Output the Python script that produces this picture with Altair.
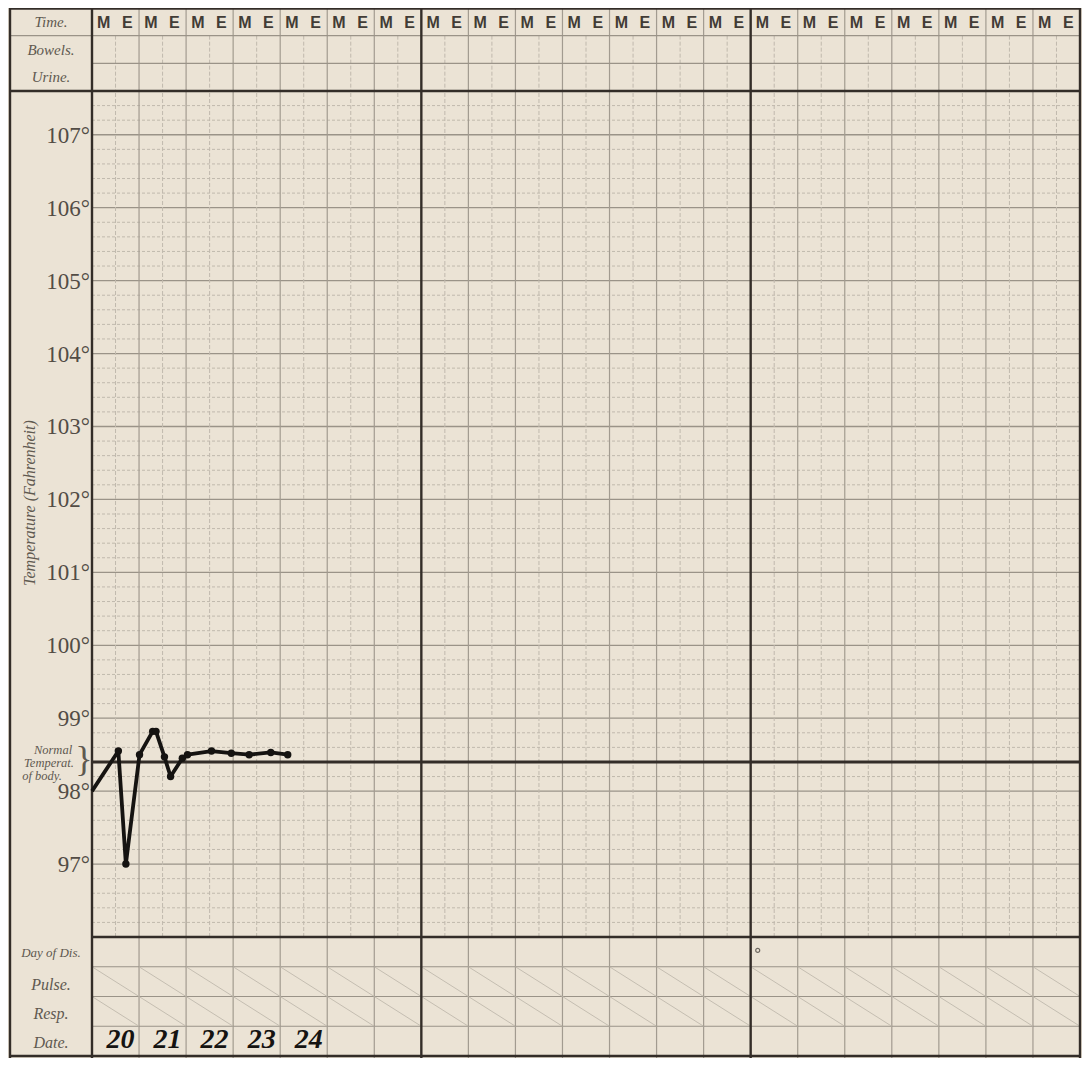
import altair as alt
import pandas as pd

# ---------------- data ----------------
N_DAYS = 21
SECTION_BOUNDS = [0, 7, 14, 21]
TIME_LETTERS = ["M", "E"]
HEADER_ROWS = ["Time.", "Bowels.", "Urine."]
FOOTER_ROWS = ["Day of Dis.", "Pulse.", "Resp.", "Date."]
DEGREE_TICKS = [97, 98, 99, 100, 101, 102, 103, 104, 105, 106, 107]
DEGREE_LABELS = ["97°", "98°", "99°", "100°", "101°", "102°", "103°", "104°", "105°", "106°", "107°"]
NORMAL_TEMP = 98.4
TEMP_DOMAIN = [96.0, 107.6]
MINOR_STEP = 0.2
# readings (x in days from chart start, temperature in °F)
READING_DAY = [0.0, 0.56, 0.72, 1.01, 1.29, 1.36, 1.54, 1.67, 1.92, 2.03, 2.54, 2.96, 3.34, 3.80, 4.16]
READING_TEMP = [98.0, 98.55, 97.0, 98.5, 98.82, 98.82, 98.47, 98.2, 98.45, 98.5, 98.55, 98.52, 98.5, 98.53, 98.5]
DATE_DAY = [1, 2, 3, 4, 5]
DATE_TEXT = ["20", "21", "22", "23", "24"]
DIS_MARK_DAY = [14.15]
NORMAL_TEXT = ["Normal", "Temperat.", "of body."]
AXIS_TITLE = "Temperature (Fahrenheit)"

# ---------------- layout ----------------
W, H = 1074, 1050
GX0, GX1 = 84, 1072      # grid left / right (px inside the view)
HB = 83                  # bottom of header rows
TB = 929                 # bottom of temperature area
FB = 1048                # bottom of footer rows
PPD = (GX1 - GX0) / N_DAYS


def px2day(p):
    return (p - GX0) / PPD


LEFT = px2day(2)
LAB_MID = px2day(43)

BG = "#ebe3d5"
INK = "#151311"
THICK = "#332d28"
MED = "#9a9388"
DAYC = "#a29b90"
LIGHT = "#c0b9ad"
LABEL_C = "#5f5950"
DEG_C = "#524c45"
SERIF = "Liberation Serif"

xs = alt.Scale(domain=[0, N_DAYS], range=[GX0, GX1], nice=False, zero=False)
ys_h = alt.Scale(domain=[0, 3], range=[0, HB], nice=False, zero=False)
ys_t = alt.Scale(domain=TEMP_DOMAIN, range=[TB, HB], nice=False, zero=False)
ys_f = alt.Scale(domain=[0, 4], range=[TB, FB], nice=False, zero=False)


def X(f):
    return alt.X(f, type="quantitative", scale=xs, axis=None)


def Y(f, s):
    return alt.Y(f, type="quantitative", scale=s, axis=None)


layers = []

# --- temperature minor lines (every 0.2°) ---
n_minor = int(round((TEMP_DOMAIN[1] - TEMP_DOMAIN[0]) / MINOR_STEP))
minor = [round(TEMP_DOMAIN[0] + MINOR_STEP * i, 1) for i in range(1, n_minor)]
minor = [m for m in minor if abs(m - round(m)) > 1e-6 and abs(m - NORMAL_TEMP) > 1e-6]
df_minor = pd.DataFrame({"t": minor, "x0": 0, "x1": N_DAYS})
layers.append(alt.Chart(df_minor).mark_rule(color=LIGHT, strokeWidth=1, strokeDash=[3, 2]).encode(
    x=X("x0"), x2="x1", y=Y("t", ys_t)))

# --- degree lines ---
df_deg = pd.DataFrame({"t": DEGREE_TICKS, "lab": DEGREE_LABELS, "x0": 0, "x1": N_DAYS})
layers.append(alt.Chart(df_deg).mark_rule(color=MED, strokeWidth=1.3).encode(
    x=X("x0"), x2="x1", y=Y("t", ys_t)))

# --- half-day lines (temperature area and header rows 1-3) ---
half = [d + 0.5 for d in range(N_DAYS)]
df_half_t = pd.DataFrame({"x": half, "t0": TEMP_DOMAIN[0], "t1": TEMP_DOMAIN[1]})
layers.append(alt.Chart(df_half_t).mark_rule(color=LIGHT, strokeWidth=1, strokeDash=[4, 2]).encode(
    x=X("x"), y=Y("t0", ys_t), y2="t1"))
df_half_h = pd.DataFrame({"x": half, "r0": 1, "r1": 3})
layers.append(alt.Chart(df_half_h).mark_rule(color=LIGHT, strokeWidth=1, strokeDash=[4, 2]).encode(
    x=X("x"), y=Y("r0", ys_h), y2="r1"))

# --- day lines, full height ---
df_day = pd.DataFrame({"x": [d for d in range(1, N_DAYS) if d not in SECTION_BOUNDS]})
layers.append(alt.Chart(df_day).mark_rule(color=DAYC, strokeWidth=1.2).encode(x=X("x")))

# --- header horizontal lines ---
df_hh = pd.DataFrame({"r": [1, 2], "x0": [LEFT, 0], "x1": [N_DAYS, N_DAYS]})
layers.append(alt.Chart(df_hh).mark_rule(color=MED, strokeWidth=1.3).encode(
    x=X("x0"), x2="x1", y=Y("r", ys_h)))
df_hthick = pd.DataFrame({"r": [0.02, 3], "x0": [LEFT, LEFT], "x1": [N_DAYS, N_DAYS]})
layers.append(alt.Chart(df_hthick).mark_rule(color=THICK, strokeWidth=2.4).encode(
    x=X("x0"), x2="x1", y=Y("r", ys_h)))

# --- footer lines ---
df_fh = pd.DataFrame({"r": [1, 2, 3], "x0": 0, "x1": N_DAYS})
layers.append(alt.Chart(df_fh).mark_rule(color=MED, strokeWidth=1.2).encode(
    x=X("x0"), x2="x1", y=Y("r", ys_f)))
df_fthick = pd.DataFrame({"r": [0, 4], "x0": [0, LEFT], "x1": [N_DAYS, N_DAYS]})
layers.append(alt.Chart(df_fthick).mark_rule(color=THICK, strokeWidth=2.4).encode(
    x=X("x0"), x2="x1", y=Y("r", ys_f)))

# --- diagonals in Pulse / Resp rows ---
diag = [{"x0": d, "x1": d + 1, "r0": r, "r1": r + 1} for r in (1, 2) for d in range(N_DAYS)]
layers.append(alt.Chart(pd.DataFrame(diag)).mark_rule(color=LIGHT, strokeWidth=0.9).encode(
    x=X("x0"), x2="x1", y=Y("r0", ys_f), y2="r1"))

# --- thick verticals ---
df_sec = pd.DataFrame({"x": [LEFT] + SECTION_BOUNDS})
layers.append(alt.Chart(df_sec).mark_rule(color=THICK, strokeWidth=2.4).encode(x=X("x")))

# --- normal temperature line ---
df_norm = pd.DataFrame({"t": [NORMAL_TEMP], "x0": [0], "x1": [N_DAYS]})
layers.append(alt.Chart(df_norm).mark_rule(color=THICK, strokeWidth=3).encode(
    x=X("x0"), x2="x1", y=Y("t", ys_t)))

# --- M / E letters ---
me = [{"x": d + 0.25 + 0.5 * i, "r": 0.5, "txt": TIME_LETTERS[i]} for d in range(N_DAYS) for i in range(2)]
layers.append(alt.Chart(pd.DataFrame(me)).mark_text(
    font="Liberation Sans Narrow, Liberation Sans", fontWeight="bold", fontSize=16,
    color="#423c36", baseline="middle", dy=1).encode(
    x=X("x"), y=Y("r", ys_h), text="txt:N"))

# --- row labels ---
df_hl = pd.DataFrame({"x": LAB_MID, "r": [0.5, 1.5, 2.5], "txt": HEADER_ROWS})
layers.append(alt.Chart(df_hl).mark_text(
    font=SERIF, fontStyle="italic", fontSize=15, color=LABEL_C, baseline="middle").encode(
    x=X("x"), y=Y("r", ys_h), text="txt:N"))
df_fl = pd.DataFrame({"x": LAB_MID, "r": [0.55, 1.6, 2.6, 3.55], "txt": FOOTER_ROWS,
                      "fs": [13, 16, 16, 16]})
layers.append(alt.Chart(df_fl).mark_text(
    font=SERIF, fontStyle="italic", color=LABEL_C, baseline="middle").encode(
    x=X("x"), y=Y("r", ys_f), text="txt:N",
    size=alt.Size("fs:Q", scale=None, legend=None)))

# --- degree labels ---
df_dl = df_deg.assign(x=px2day(GX0 - 2))
layers.append(alt.Chart(df_dl).mark_text(
    font=SERIF, fontSize=23, color=DEG_C, align="right", baseline="middle", dy=1).encode(
    x=X("x"), y=Y("t", ys_t), text="lab:N"))

# --- vertical axis title ---
df_at = pd.DataFrame({"x": [px2day(22)], "t": [101.95], "txt": [AXIS_TITLE]})
layers.append(alt.Chart(df_at).mark_text(
    font=SERIF, fontStyle="italic", fontSize=16, color=LABEL_C, angle=270, baseline="middle").encode(
    x=X("x"), y=Y("t", ys_t), text="txt:N"))

# --- "Normal Temperat. of body" note with brace ---
df_nt = pd.DataFrame({"x": [px2day(45), px2day(41), px2day(34)],
                      "t": [98.57, 98.39, 98.21], "txt": NORMAL_TEXT})
layers.append(alt.Chart(df_nt).mark_text(
    font=SERIF, fontStyle="italic", fontSize=12.5, color=LABEL_C, baseline="middle").encode(
    x=X("x"), y=Y("t", ys_t), text="txt:N"))
df_br = pd.DataFrame({"x": [px2day(76)], "t": [NORMAL_TEMP], "txt": ["}"]})
layers.append(alt.Chart(df_br).mark_text(
    font=SERIF, fontSize=36, color=LABEL_C, baseline="middle", dy=-2).encode(
    x=X("x"), y=Y("t", ys_t), text="txt:N"))

# --- temperature readings ---
df_read = pd.DataFrame({"x": READING_DAY, "t": READING_TEMP})
layers.append(alt.Chart(df_read).mark_line(color=INK, strokeWidth=3.8, strokeJoin="round").encode(
    x=X("x"), y=Y("t", ys_t)))
layers.append(alt.Chart(df_read.iloc[1:]).mark_circle(color=INK, size=55, opacity=1).encode(
    x=X("x"), y=Y("t", ys_t)))

# --- handwritten dates ---
df_dates = pd.DataFrame({"x": [d - 0.5 for d in DATE_DAY], "r": 3.5, "txt": DATE_TEXT})
layers.append(alt.Chart(df_dates).mark_text(
    font=SERIF, fontWeight="bold", fontStyle="italic", fontSize=28, color=INK,
    baseline="middle", dx=5, dy=-1).encode(
    x=X("x"), y=Y("r", ys_f), text="txt:N"))

# --- small mark in Day of Dis row ---
df_dm = pd.DataFrame({"x": DIS_MARK_DAY, "r": [0.45]})
layers.append(alt.Chart(df_dm).mark_point(shape="circle", size=16, color="#3a3530", strokeWidth=1.2).encode(
    x=X("x"), y=Y("r", ys_f)))

chart = alt.layer(*layers).resolve_scale(y="independent").properties(
    width=W, height=H, padding=0, background=BG,
    autosize=alt.AutoSizeParams(type="none"),
).configure_view(strokeWidth=0)

chart.save("out.html", embed_options={"renderer": "svg", "actions": False})
